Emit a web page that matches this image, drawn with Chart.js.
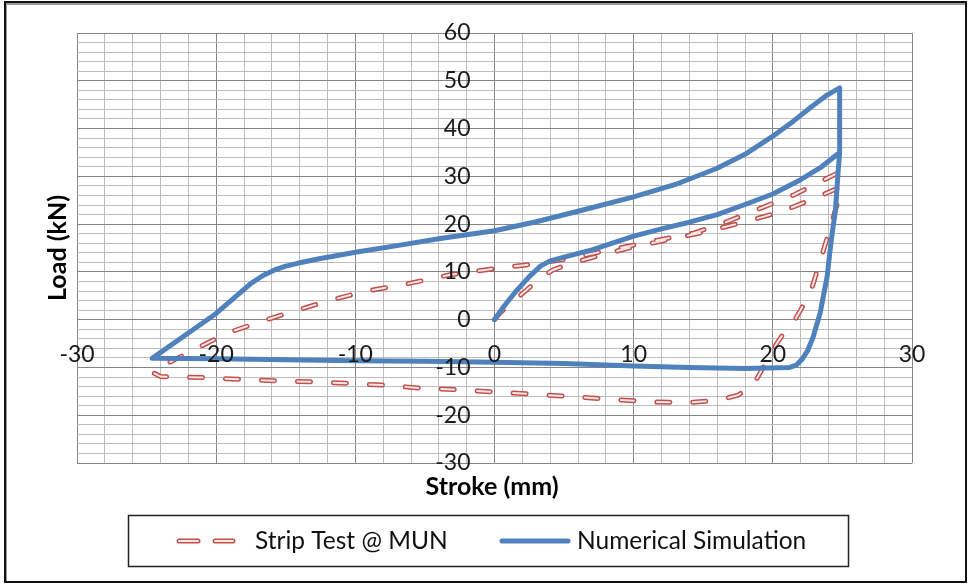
<!DOCTYPE html>
<html>
<head>
<meta charset="utf-8">
<script src="https://cdn.jsdelivr.net/npm/chart.js@4.4.1/dist/chart.umd.min.js"></script>
<style>
  html, body { margin: 0; padding: 0; background: #ffffff; }
  canvas { display: block; }
</style>
</head>
<body>
<canvas id="chart" width="969" height="585"></canvas>
<script>
// Strip test record (stroke in mm, load in kN), in the order it was logged
const stripStroke = [
    0, 0.4, 1.2, 2.3, 3.2, 4.2, 5.5, 6.9, 9.5, 12.1, 14.7, 17.8, 20.6, 23.0, 24.9,
    24.6, 24.0, 23.5, 22.7, 21.6, 21.1, 20.3, 19.4, 18.6, 17.5, 16.2, 13.8, 11.2, 8.5, 6.1,
    3.3, -0.2, -3.0, -5.4, -8.0, -10.6, -13.3, -15.6, -18.3, -21.0, -24.0, -24.6,
    -23.4, -21.6, -19.2, -16.8, -14.5, -12.1, -9.4, -6.6, -3.2, 0.3, 2.1, 5.0, 9.5, 12.0,
    14.3, 16.7, 19.1, 21.5, 23.9, 24.6, 25.0
];
const stripLoad = [
    0, 1.4, 3.5, 6.2, 8.5, 10.4, 11.8, 12.9, 14.9, 16.5, 18.1, 20.3, 22.6, 25.4, 27.8,
    24.0, 18.0, 13.2, 5.6, 0, -1.5, -4.9, -9.5, -13.7, -15.8, -16.8, -17.4, -17.2, -16.7, -16.2,
    -15.7, -15.1, -14.6, -14.3, -13.7, -13.3, -13.0, -12.8, -12.5, -12.1, -11.9, -11.0,
    -9.0, -6.3, -2.8, -0.4, 1.7, 3.8, 5.9, 7.3, 9.4, 10.8, 11.4, 12.6, 15.3, 16.8,
    18.1, 20.5, 23.3, 26.1, 29.6, 30.6, 28.0
];

// Numerical simulation output for the same stroke history
const simStroke = [
    0, 0.6, 1.5, 2.5, 3.3, 4.0, 5.0, 7.0, 10.0, 12.0, 14.0, 16.0, 18.0, 20.0, 22.0, 23.5, 24.8,
    24.7, 24.5, 24.2, 23.9, 23.4, 22.9, 22.5, 22.1, 21.7, 21.2, 18.0, 14.0, 10.0, 5.0, 0, -5.0,
    -10.0, -15.0, -20.0, -24.6,
    -22.0, -20.0, -17.5, -16.6, -15.8, -15.0, -14.0, -12.5, -10.0, -7.0, -3.9, 0, 3.0, 6.0, 10.0,
    13.0, 16.0, 18.0, 20.0, 21.5, 22.8, 23.9, 24.8, 24.8
];
const simLoad = [
    0, 2.5, 5.8, 9.0, 11.2, 12.3, 13.1, 14.6, 17.5, 19.0, 20.4, 22.0, 24.1, 26.3, 29.3, 32.0, 35.0,
    31.3, 22.9, 16.7, 9.0, 1.4, -3.6, -6.5, -8.3, -9.5, -10.0, -10.2, -10.0, -9.7, -9.2, -8.9, -8.7,
    -8.6, -8.4, -8.2, -8.1,
    -2.8, 1.3, 7.6, 9.3, 10.4, 11.2, 11.9, 12.8, 14.1, 15.5, 17.0, 18.6, 20.5, 22.7, 25.7,
    28.3, 31.7, 34.6, 38.4, 41.6, 44.6, 47.0, 48.5, 35.0
];

const strokeTicks = [-30, -20, -10, 0, 10, 20, 30];
const loadTicks = [60, 50, 40, 30, 20, 10, 0, -10, -20, -30];

const seriesNames = ['Strip Test @ MUN', 'Numerical Simulation'];

const RED = '#c0504d';
const RED_FILL = '#fbe6e6';
const BLUE = '#4f81bd';
const FONT = 'Lato, "Open Sans", sans-serif';

function points(xs, ys) {
    return xs.map((x, i) => ({ x, y: ys[i] }));
}

// white page with the dark frame round it
const frame = {
    id: 'frame',
    beforeDraw(chart) {
        const { ctx, width, height } = chart;
        ctx.save();
        ctx.fillStyle = '#ffffff';
        ctx.fillRect(0, 0, width, height);
        ctx.strokeStyle = '#9a9a9a';
        ctx.lineWidth = 2;
        ctx.strokeRect(6, 4, width - 9, height - 7);
        ctx.strokeStyle = '#111111';
        ctx.lineWidth = 2;
        ctx.strokeRect(5, 2, width - 8, height - 5);
        ctx.restore();
    },
};

// tick labels sit next to the zero lines, axis titles and legend drawn by hand
const axisText = {
    id: 'axisText',
    afterDatasetsDraw(chart) {
        const { ctx, scales: { x, y } } = chart;
        const x0 = x.getPixelForValue(0);
        const y0 = y.getPixelForValue(0);
        ctx.save();
        ctx.fillStyle = '#1a1a1a';
        ctx.font = '23px ' + FONT;
        ctx.textBaseline = 'middle';

        ctx.textAlign = 'right';
        loadTicks.forEach(v => ctx.fillText(String(v), x0 - 24, y.getPixelForValue(v)));

        ctx.textAlign = 'center';
        strokeTicks.forEach(v => ctx.fillText(String(v), x.getPixelForValue(v), y0 + 35));

        // axis titles
        ctx.fillStyle = '#000000';
        ctx.font = 'bold 25px ' + FONT;
        ctx.fillText('Stroke (mm)', 492, 487);
        ctx.save();
        ctx.translate(58, 248);
        ctx.rotate(-Math.PI / 2);
        ctx.fillText('Load (kN)', 0, 0);
        ctx.restore();

        // legend box
        ctx.strokeStyle = '#222222';
        ctx.lineWidth = 1.5;
        ctx.strokeRect(128.5, 515.5, 720, 51);

        const ly = 541;
        ctx.lineCap = 'round';
        [[179, 198], [215, 233]].forEach(([a, b]) => {
            ctx.strokeStyle = RED;
            ctx.lineWidth = 5;
            ctx.beginPath(); ctx.moveTo(a, ly); ctx.lineTo(b, ly); ctx.stroke();
            ctx.strokeStyle = RED_FILL;
            ctx.lineWidth = 2;
            ctx.beginPath(); ctx.moveTo(a, ly); ctx.lineTo(b, ly); ctx.stroke();
        });
        ctx.strokeStyle = BLUE;
        ctx.lineWidth = 5;
        ctx.beginPath(); ctx.moveTo(502, ly); ctx.lineTo(568, ly); ctx.stroke();

        ctx.fillStyle = '#111111';
        ctx.font = '24.5px ' + FONT;
        ctx.textAlign = 'left';
        ctx.fillText(seriesNames[0], 255, ly);
        ctx.fillText(seriesNames[1], 577, ly);
        ctx.restore();
    },
};

function gridColor(ctx) {
    return ctx.tick && ctx.tick.value % 10 === 0 ? '#858585' : '#bdbdbd';
}

new Chart(document.getElementById('chart'), {
    type: 'scatter',
    data: {
        datasets: [
            {
                label: seriesNames[1],
                data: points(simStroke, simLoad),
                showLine: true,
                borderColor: BLUE,
                borderWidth: 5,
                borderJoinStyle: 'round',
                borderCapStyle: 'round',
                pointRadius: 0,
                tension: 0,
            },
            {
                label: seriesNames[0] + ' fill',
                data: points(stripStroke, stripLoad),
                showLine: true,
                borderColor: RED_FILL,
                borderWidth: 2,
                borderDash: [13, 23],
                borderCapStyle: 'round',
                pointRadius: 0,
                tension: 0,
            },
            {
                label: seriesNames[0],
                data: points(stripStroke, stripLoad),
                showLine: true,
                borderColor: RED,
                borderWidth: 5,
                borderDash: [13, 23],
                borderCapStyle: 'round',
                pointRadius: 0,
                tension: 0,
            },
        ],
    },
    options: {
        responsive: false,
        animation: false,
        layout: { padding: { left: 77, right: 57, top: 33, bottom: 122 } },
        plugins: {
            legend: { display: false },
            tooltip: { enabled: false },
        },
        scales: {
            x: {
                type: 'linear',
                min: -30,
                max: 30,
                ticks: { display: false, stepSize: 2, maxTicksLimit: 100 },
                grid: { color: gridColor, lineWidth: 1, drawTicks: false },
                border: { display: false },
            },
            y: {
                type: 'linear',
                min: -30,
                max: 60,
                ticks: { display: false, stepSize: 2, maxTicksLimit: 100 },
                grid: { color: gridColor, lineWidth: 1, drawTicks: false },
                border: { display: false },
            },
        },
    },
    plugins: [frame, axisText],
});
</script>
</body>
</html>
